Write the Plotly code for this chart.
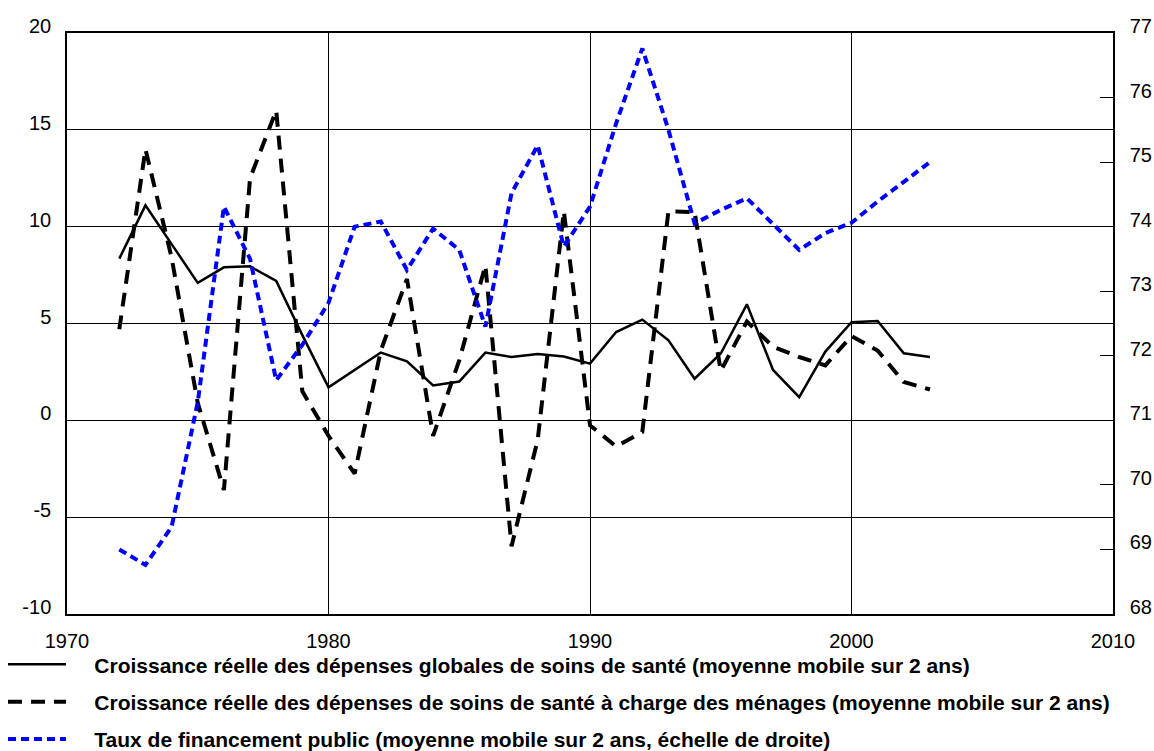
import plotly.graph_objects as go

years = list(range(1972, 2004))

growth_total = [8.35, 11.1, 9.1, 7.1, 7.9, 7.95, 7.2, 4.4, 1.7, 2.6, 3.5, 3.05, 1.8, 2.0, 3.5, 3.27,
                3.42, 3.3, 2.93, 4.56, 5.2, 4.13, 2.15, 3.45, 5.99, 2.6, 1.2, 3.55, 5.07, 5.13, 3.46, 3.27]

growth_households = [4.7, 14.0, 8.4, 0.9, -3.6, 12.5, 16.0, 1.5, -0.8, -2.75, 3.6, 7.3, -0.8, 3.1, 8.0, -6.5,
                     -1.0, 10.8, -0.25, -1.35, -0.6, 10.8, 10.75, 2.55, 5.1, 3.8, 3.27, 2.84, 4.35, 3.6, 1.98, 1.59]

public_share = [69.0, 68.76, 69.35, 71.28, 74.31, 73.5, 71.62, 72.17, 72.82, 74.0, 74.08, 73.33, 73.97, 73.64,
                72.45, 74.52, 75.26, 73.69, 74.31, 75.6, 76.76, 75.5, 74.05, 74.26, 74.44, 74.05, 73.64, 73.9,
                74.06, 74.39, 74.7, 75.0]

names = [
    "Croissance réelle des dépenses globales de soins de santé (moyenne mobile sur 2 ans)",
    "Croissance réelle des dépenses de soins de santé à charge des ménages (moyenne mobile sur 2 ans)",
    "Taux de financement public (moyenne mobile sur 2 ans, échelle de droite)",
]

left_ticks = [-10, -5, 0, 5, 10, 15, 20]
right_ticks = [68, 69, 70, 71, 72, 73, 74, 75, 76, 77]
x_ticks = [1970, 1980, 1990, 2000, 2010]

FONT = "Liberation Sans, Arial, Helvetica, sans-serif"
PAD = "\u00a0" * 4

fig = go.Figure()
fig.add_trace(go.Scatter(x=years, y=growth_total, mode="lines", name=PAD + names[0],
                         line=dict(color="black", width=2.5), legendgroup="a"))
fig.add_trace(go.Scatter(x=years, y=growth_households, mode="lines", name=PAD + names[1],
                         line=dict(color="black", width=4, dash="14px,9px"), legendgroup="b"))
fig.add_trace(go.Scatter(x=years, y=public_share, mode="lines", name=PAD + names[2], yaxis="y2",
                         line=dict(color="#0000FF", width=4, dash="8px,5px"), legendgroup="c"))

fig.update_layout(
    width=1154, height=751,
    margin=dict(l=67, r=41, t=33, b=137, autoexpand=False),
    paper_bgcolor="white", plot_bgcolor="white",
    font=dict(family=FONT, size=20, color="black"),
    showlegend=True,
    legend=dict(
        x=-0.0612, y=-0.052, xanchor="left", yanchor="top",
        orientation="v", tracegroupgap=7, itemwidth=58,
        font=dict(family=FONT, size=21, color="black", weight="bold"),
        bgcolor="rgba(0,0,0,0)",
    ),
    xaxis=dict(
        range=[1970, 2010], tickvals=x_ticks, ticktext=[str(v) for v in x_ticks],
        showgrid=True, gridcolor="black", gridwidth=1.2,
        showline=True, linecolor="black", linewidth=1.5, mirror=True,
        ticks="", zeroline=False, ticklabelstandoff=8,
    ),
    yaxis=dict(
        range=[-10, 20], tickvals=left_ticks, ticktext=[str(v) for v in left_ticks],
        showgrid=True, gridcolor="black", gridwidth=1.2,
        showline=True, linecolor="black", linewidth=1.5, mirror=True,
        ticks="", zeroline=False, ticklabelshift=-7, ticklabelstandoff=10,
    ),
    yaxis2=dict(
        range=[68, 77], overlaying="y", side="right",
        tickvals=right_ticks, ticktext=[str(v) for v in right_ticks],
        showgrid=False, zeroline=False,
        ticks="inside", ticklen=13, tickcolor="black", tickwidth=1.2,
        showline=True, linecolor="black", linewidth=1.5,
        ticklabelshift=-7, ticklabelstandoff=11,
    ),
)

fig.write_html("out.html", config={"displayModeBar": False},
               post_script="document.body.style.margin='0px';document.body.style.padding='0px';")
